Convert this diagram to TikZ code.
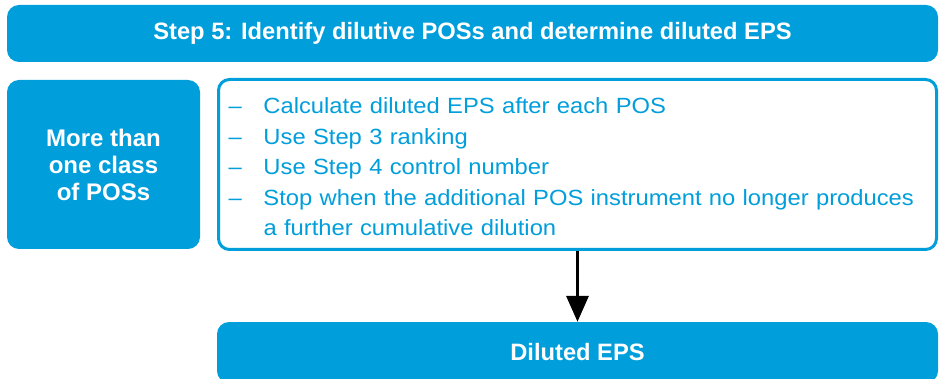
\documentclass[tikz,border=0pt]{standalone}
\usepackage{fontspec}
\setmainfont{Liberation Sans}
\newfontfamily\listfont[FakeStretch=1.08]{Liberation Sans}
\usetikzlibrary{arrows.meta}
\definecolor{stepblue}{RGB}{0,158,219}
\newcommand{\dashitem}{\makebox[35pt][l]{–}}

\begin{document}
\begin{tikzpicture}[
  x=1pt, y=-1pt,
  % Node styles
  barnode/.style={
    rectangle, rounded corners=12pt,
    fill=stepblue, text=white,
    font=\fontsize{23.7}{28}\selectfont\bfseries
  },
  classnode/.style={
    rectangle, rounded corners=12pt,
    fill=stepblue, text=white, align=center,
    minimum width=193pt, minimum height=169pt,
    font=\fontsize{24}{27}\selectfont\bfseries
  },
  listnode/.style={
    rectangle, rounded corners=11pt,
    draw=stepblue, line width=3pt, fill=white, text=stepblue,
    text width=698pt, inner xsep=10pt, align=left,
    minimum height=170pt,
    font=\listfont\fontsize{22}{30.5}\selectfont
  },
  % Arrow style
  arr/.style={-{Triangle[length=26pt, width=22pt]}, line width=3.5pt}
]
\useasboundingbox (0,0) rectangle (942,379);

%% ── Step heading ─────────────────────────────────────────────
\node[barnode, minimum width=931pt, minimum height=57pt] (step5) at (472.5,33.5)
  {Step 5: Identify dilutive POSs and determine diluted EPS};

%% ── Class box and rules box ──────────────────────────────────
\node[classnode] (classes) at (103.5,164.5) {More than\\one class\\of POSs};
\node[listnode]  (rules)   at (577.5,164.5) {%
  \rule{0pt}{21pt}\dashitem Calculate diluted EPS after each POS\\
  \dashitem Use Step 3 ranking\\
  \dashitem Use Step 4 control number\\
  \dashitem Stop when the additional POS instrument no longer produces\\
  \hspace*{35pt}a further cumulative dilution};

%% ── Result ───────────────────────────────────────────────────
\node[barnode, minimum width=721pt, minimum height=61pt] (result) at (577.5,352.5)
  {Diluted EPS};

%% ── Arrow: rules → result ────────────────────────────────────
\draw[arr] (rules.south) -- (result.north);

\end{tikzpicture}
\end{document}
